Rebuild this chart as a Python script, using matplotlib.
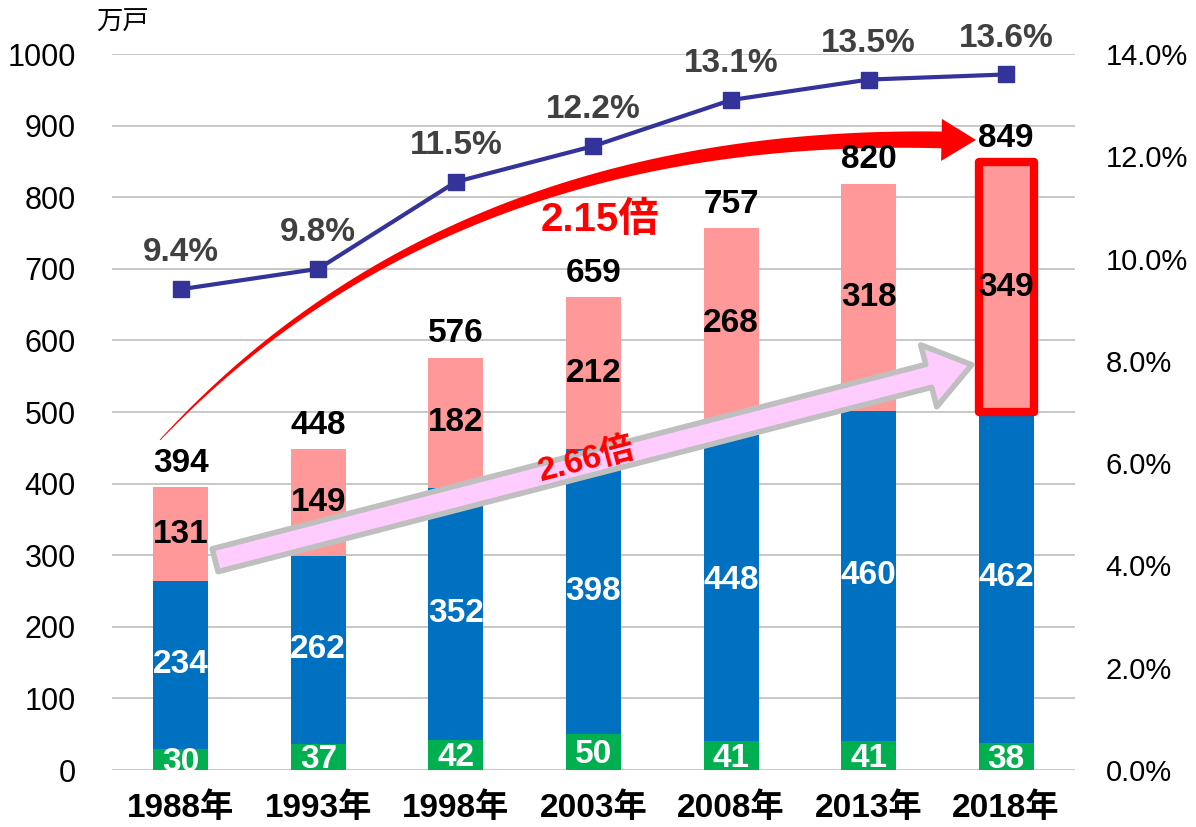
import numpy as np
import matplotlib.pyplot as plt
from matplotlib.patches import Polygon, FancyArrowPatch

plt.rcParams['font.family'] = ['Liberation Sans', 'Noto Sans CJK JP', 'DejaVu Sans']

years = ['1988年', '1993年', '1998年', '2003年', '2008年', '2013年', '2018年']
green = [30, 37, 42, 50, 41, 41, 38]
blue = [234, 262, 352, 398, 448, 460, 462]
pink = [131, 149, 182, 212, 268, 318, 349]
totals = [394, 448, 576, 659, 757, 820, 849]
rate = [9.4, 9.8, 11.5, 12.2, 13.1, 13.5, 13.6]

C_GREEN = '#00B050'
C_BLUE = '#0070C0'
C_PINK = '#FF9999'
C_LINE = '#333399'

fig = plt.figure(figsize=(11.96, 8.27), dpi=100)
ax = fig.add_axes([0.0936, 0.0689, 0.8052, 0.8658])
x = np.arange(len(years))
w = 0.4

g = np.array(green)
b = np.array(blue)
p = np.array(pink)

ax.bar(x, g, w, color=C_GREEN, zorder=2)
ax.bar(x, b, w, bottom=g, color=C_BLUE, zorder=2)
bars_p = ax.bar(x, p, w, bottom=g + b, color=C_PINK, zorder=2)
bars_p[-1].set_edgecolor('#FF0000')
bars_p[-1].set_linewidth(6)
bars_p[-1].set_joinstyle('round')

for i in range(len(x)):
    ax.text(x[i], g[i] / 2 - 4, str(green[i]), ha='center', va='center',
            color='white', fontsize=24, fontweight='bold', zorder=5)
    ax.text(x[i], g[i] + b[i] / 2, str(blue[i]), ha='center', va='center',
            color='white', fontsize=24, fontweight='bold', zorder=5)
    ax.text(x[i], g[i] + b[i] + p[i] / 2, str(pink[i]), ha='center', va='center',
            color='black', fontsize=24, fontweight='bold', zorder=5)
    ax.annotate(str(totals[i]), (x[i], g[i] + b[i] + p[i]), xytext=(0, 6),
                textcoords='offset points', ha='center', va='bottom',
                fontsize=24, fontweight='bold', color='black', zorder=5)

ax.set_xlim(-0.5, len(x) - 0.5)
ax.set_ylim(0, 1000)
ax.set_yticks(np.arange(0, 1001, 100))
ax.set_xticks(x)
ax.set_xticklabels(years, fontsize=24, fontweight='bold')
ax.tick_params(axis='y', labelsize=22, length=0, pad=26)
ax.tick_params(axis='x', length=0, pad=16)
ax.grid(axis='y', color='#BFBFBF', linewidth=1.2, zorder=0)
ax.set_axisbelow(True)
for s in ax.spines.values():
    s.set_visible(False)

ax2 = ax.twinx()
ax2.set_ylim(0, 14)
ax2.set_yticks(np.arange(0, 14.1, 2))
ax2.set_yticklabels([f'{v:.1f}%' for v in np.arange(0, 14.1, 2)])
ax2.tick_params(axis='y', labelsize=21, length=0, pad=22)
for s in ax2.spines.values():
    s.set_visible(False)
ax2.plot(x, rate, color=C_LINE, linewidth=3, marker='s', markersize=12, zorder=6)
for i in range(len(x)):
    ax2.annotate(f'{rate[i]:.1f}%', (x[i], rate[i]), xytext=(0, 15),
                 textcoords='offset points', ha='center', va='bottom',
                 fontsize=24, fontweight='bold', color='#404040')

fig.text(0.102, 0.972, '万戸', fontsize=19, ha='center', va='center')

# red tapered curved arrow (drawn in display space, converted back to data)
tr = ax.transData
P0 = tr.transform((-0.15, 461))
C = tr.transform((1.96, 894))
P2 = tr.transform((5.53, 880))
tip = tr.transform((5.78, 880))
t = np.linspace(0, 1, 120)[:, None]
pts = (1 - t) ** 2 * P0 + 2 * (1 - t) * t * C + t ** 2 * P2
d = 2 * (1 - t) * (C - P0) + 2 * t * (P2 - C)
d = d / np.linalg.norm(d, axis=1, keepdims=True)
n = np.column_stack([-d[:, 1], d[:, 0]])
half = (0.4 + 8 * t[:, 0] ** 0.9)[:, None]
upper = pts + n * half
lower = pts - n * half
hw = 21
head = [P2 + n[-1] * hw, tip, P2 - n[-1] * hw]
poly = np.vstack([upper, head, lower[::-1]])
ax.add_patch(Polygon(tr.inverted().transform(poly), closed=True,
                     facecolor='#FF0000', edgecolor='none', zorder=4))
ax.text(3.05, 768, '2.15倍', color='#FF0000', fontsize=29, fontweight='bold',
        ha='center', va='center', zorder=5)

# pink arrow
arr = FancyArrowPatch((0.25, 293), (5.75, 566),
                      arrowstyle='simple,head_length=1.6,head_width=2.3,tail_width=0.85',
                      mutation_scale=20, facecolor='#FFCCFF', edgecolor='#BFBFBF',
                      linewidth=4, zorder=4, shrinkA=0, shrinkB=0)
ax.add_patch(arr)
ax.text(2.95, 432, '2.66倍', color='#FF0000', fontsize=24, fontweight='bold',
        ha='center', va='center', rotation=14.5, rotation_mode='anchor', zorder=5)

fig.savefig('out.png', dpi=100)
